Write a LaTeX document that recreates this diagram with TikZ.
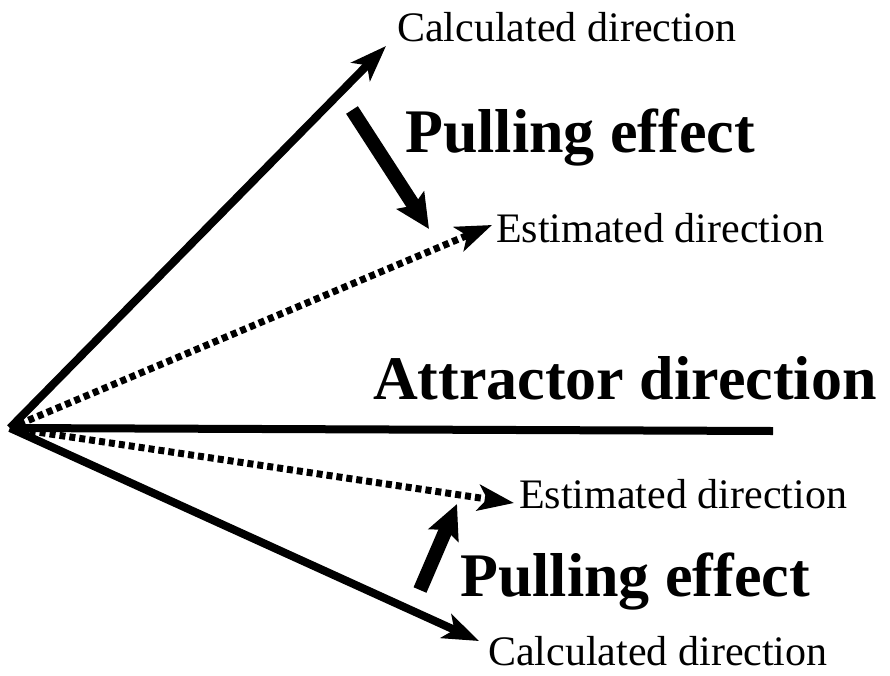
\documentclass[tikz,border=0pt]{standalone}
\usepackage{fontspec}
\setmainfont{Liberation Serif}
\usetikzlibrary{arrows.meta}
\begin{document}
\begin{tikzpicture}[x=1pt,y=-1pt,
  solidvec/.style={line width=8pt,-{Stealth[length=36pt,width=26pt,inset=9pt]}},
  dotvec/.style={line width=7pt,dash pattern=on 6pt off 4pt,-{Stealth[length=36pt,width=26pt,inset=9pt]}},
  pullvec/.style={line width=14pt,-{Stealth[length=34pt,width=32pt,inset=6pt]}},
  small/.style={font=\fontsize{42}{46}\selectfont,anchor=west,inner sep=0pt},
  big/.style={font=\fontsize{62}{66}\selectfont\bfseries,anchor=west,inner sep=0pt}]
\useasboundingbox (0,0) rectangle (890,675);
\coordinate (o) at (10,428);
\coordinate (c1) at (386,46);
\coordinate (e1) at (492,225);
\coordinate (att) at (773,431);
\coordinate (e2) at (514,503);
\coordinate (c2) at (479,641);
\coordinate (p1s) at (352,110);
\coordinate (p1e) at (429,229);
\coordinate (p2s) at (420,590);
\coordinate (p2e) at (457,504);
\draw[solidvec] (o) -- (c1);
\draw[dotvec] (o) -- (e1);
\draw[line width=8pt] (o) -- (att);
\draw[dotvec] (o) -- (e2);
\draw[solidvec] (o) -- (c2);
\draw[pullvec] (p1s) -- (p1e);
\draw[pullvec] (p2s) -- (p2e);
\node[small] (t1) at (397,27) {Calculated direction};
\node[big] (t2) at (405,138) {Pulling effect};
\node[small] (t3) at (496,228) {Estimated direction};
\node[big] (t4) at (373,378) {Attractor direction};
\node[small] (t5) at (519,494) {Estimated direction};
\node[big] (t6) at (460,582) {Pulling effect};
\node[small] (t7) at (488,651) {Calculated direction};
\end{tikzpicture}
\end{document}
